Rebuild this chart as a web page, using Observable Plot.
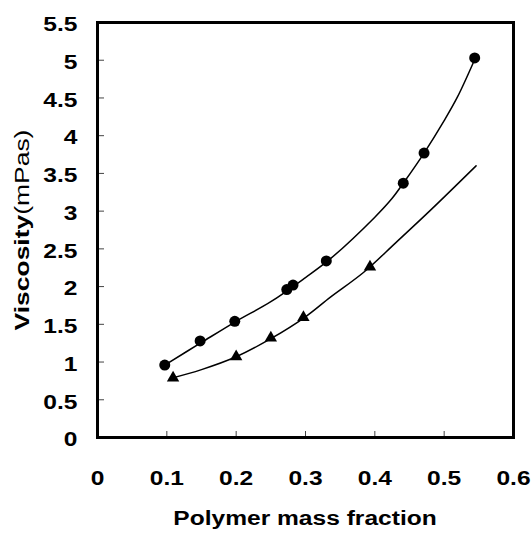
<!DOCTYPE html>
<html>
<head>
<meta charset="utf-8">
<script src="https://cdn.jsdelivr.net/npm/d3@7"></script>
<script src="https://cdn.jsdelivr.net/npm/@observablehq/plot@0.6"></script>
<style>
  html, body { margin: 0; padding: 0; background: #fff; }
  #chart svg { display: block; }
</style>
</head>
<body>
<div id="chart"></div>
<script>
// Measured data (circles)
const circleX = [0.097, 0.148, 0.198, 0.273, 0.282, 0.330, 0.441, 0.471, 0.544];
const circleY = [0.96, 1.28, 1.54, 1.96, 2.02, 2.34, 3.37, 3.77, 5.03];
// Measured data (triangles)
const triX = [0.109, 0.200, 0.250, 0.297, 0.393];
const triY = [0.79, 1.07, 1.32, 1.59, 2.26];
// Fitted curves
const circleCurveX = [0.097, 0.15, 0.2, 0.25, 0.3, 0.336, 0.4, 0.425, 0.441, 0.471, 0.5, 0.519, 0.545];
const circleCurveY = [0.96, 1.26, 1.54, 1.80, 2.12, 2.37, 2.92, 3.17, 3.37, 3.77, 4.20, 4.51, 5.03];
const triCurveX = [0.104, 0.15, 0.2, 0.25, 0.3, 0.336, 0.384, 0.43, 0.48, 0.546];
const triCurveY = [0.78, 0.90, 1.07, 1.31, 1.60, 1.86, 2.19, 2.58, 3.01, 3.60];
// Ticks and labels
const xTicks = [0, 0.1, 0.2, 0.3, 0.4, 0.5, 0.6];
const yTicks = [0, 0.5, 1, 1.5, 2, 2.5, 3, 3.5, 4, 4.5, 5, 5.5];
const xLabel = "Polymer mass fraction";
const yLabelBold = "Viscosity";
const yLabelNormal = "(mPas)";

const zip = (xs, ys) => xs.map((x, i) => ({x, y: ys[i]}));
const circles = zip(circleX, circleY);
const tris = zip(triX, triY);
const circleCurve = zip(circleCurveX, circleCurveY);
const triCurve = zip(triCurveX, triCurveY);

const font = "'Liberation Sans', Arial, sans-serif";
const stretch = 1.17;

const chart = Plot.plot({
  width: 532,
  height: 534,
  marginLeft: 97,
  marginRight: 19,
  marginTop: 22,
  marginBottom: 97,
  style: {fontFamily: font, fontSize: "21px", fontWeight: "bold", color: "black", background: "white"},
  x: {domain: [0, 0.6]},
  y: {domain: [0, 5.5]},
  marks: [
    Plot.axisX({ticks: xTicks, tickSize: -6, text: null, label: null, stroke: "#444", strokeWidth: 1}),
    Plot.axisX({ticks: xTicks, tickSize: 0, tickPadding: 33, label: null, tickFormat: d => String(d)}),
    Plot.axisY({ticks: yTicks, tickSize: -7, text: null, label: null, stroke: "#444", strokeWidth: 1}),
    Plot.axisY({ticks: yTicks, tickSize: 0, tickPadding: 20, dy: 2, label: null, tickFormat: d => String(d)}),
    Plot.line(circleCurve, {x: "x", y: "y", curve: "catmull-rom", stroke: "black", strokeWidth: 1.5}),
    Plot.line(triCurve, {x: "x", y: "y", curve: "catmull-rom", stroke: "black", strokeWidth: 1.5}),
    Plot.dot(circles, {x: "x", y: "y", r: 5.5, fill: "black", stroke: "none"}),
    Plot.dot(tris, {x: "x", y: "y", r: 4.6, symbol: "triangle", fill: "black", stroke: "none"}),
    Plot.frame({stroke: "black", strokeWidth: 3})
  ]
});

const svg = d3.select(chart);
// widen tick labels horizontally around their anchor, like the reference's font
svg.selectAll("text").each(function() {
  const t = this.getAttribute("transform") || "";
  this.setAttribute("transform", t + ` scale(${stretch},1)`);
});

svg.append("text")
  .attr("transform", `translate(305,525) scale(${stretch},1)`)
  .attr("text-anchor", "middle")
  .style("font-family", font)
  .style("font-size", "21px")
  .style("font-weight", "bold")
  .attr("fill", "black")
  .text(xLabel);

const yl = svg.append("text")
  .attr("transform", `translate(29,230) rotate(-90) scale(1.26,1)`)
  .attr("text-anchor", "middle")
  .style("font-family", font)
  .style("font-size", "21px")
  .attr("fill", "black");
yl.append("tspan").style("font-weight", "bold").text(yLabelBold);
yl.append("tspan").style("font-weight", "normal").text(yLabelNormal);

document.getElementById("chart").appendChild(chart);
</script>
</body>
</html>
